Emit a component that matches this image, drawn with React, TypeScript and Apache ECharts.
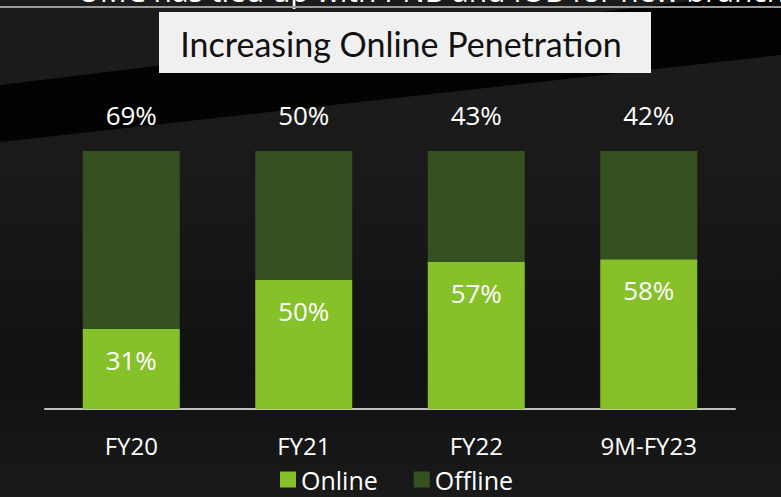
import React, { useEffect, useRef } from "react";
import * as echarts from "echarts";

const categories = ["FY20", "FY21", "FY22", "9M-FY23"];
const onlineValues = [31, 50, 57, 58];
const offlineValues = [69, 50, 43, 42];
const seriesNames = ["Online", "Offline"];
const titleText = "Increasing Online Penetration";
const topCutText = "UMC has tied up with PNB and IOB for new branches";

const LABEL_FONT = "'Open Sans', 'Noto Sans', sans-serif";

export default function App() {
  const ref = useRef<HTMLDivElement>(null);
  useEffect(() => {
    document.body.style.margin = "0";
    if (!ref.current) return;
    const chart = echarts.init(ref.current, null, { renderer: "svg" });
    chart.setOption({
      animation: false,
      backgroundColor: {
        type: "linear",
        x: 0,
        y: 0,
        x2: 0,
        y2: 1,
        colorStops: [
          { offset: 0, color: "#1c1c1c" },
          { offset: 0.35, color: "#1a1a1a" },
          { offset: 0.75, color: "#111111" },
          { offset: 1, color: "#1a1a1a" },
        ],
      },
      graphic: [
        {
          type: "polygon",
          z: -10,
          silent: true,
          shape: { points: [[0, 85], [781, -10], [781, 55], [0, 142]] },
          style: { fill: "#030303" },
        },
        {
          type: "text",
          z: -5,
          left: 78,
          top: -25,
          style: {
            text: topCutText,
            fill: "#ffffff",
            font: "30px " + LABEL_FONT,
          },
        },
        {
          type: "line",
          z: -4,
          shape: { x1: 0, y1: 7, x2: 781, y2: 7 },
          style: { stroke: "#9a9a9a", lineWidth: 2 },
        },
        {
          type: "rect",
          shape: { x: 159, y: 12, width: 492, height: 61 },
          style: { fill: "#f0f0f0" },
        },
        {
          type: "text",
          x: 401,
          y: 43,
          style: {
            text: titleText,
            fill: "#111111",
            font: "34px Lato, 'Open Sans', sans-serif",
            align: "center",
            verticalAlign: "middle",
          },
        },
      ],
      legend: {
        left: 280,
        top: 467,
        itemWidth: 16,
        itemHeight: 16,
        itemGap: 36,
        icon: "rect",
        data: seriesNames,
        padding: 0,
        textStyle: {
          color: "#ffffff",
          fontSize: 25,
          fontFamily: LABEL_FONT,
        },
      },
      grid: { left: 45, right: 46, top: 151, bottom: 88 },
      xAxis: {
        type: "category",
        data: categories,
        axisLine: { lineStyle: { color: "#c0c0c0", width: 2 } },
        axisTick: { show: false },
        axisLabel: {
          color: "#ffffff",
          fontSize: 24,
          fontFamily: LABEL_FONT,
          margin: 24,
        },
      },
      yAxis: {
        type: "value",
        min: 0,
        max: 100,
        show: false,
        splitLine: { show: false },
      },
      series: [
        {
          name: seriesNames[0],
          type: "bar",
          stack: "total",
          barWidth: 97,
          data: onlineValues,
          itemStyle: { color: "#86c129" },
          label: {
            show: true,
            position: "insideTop",
            distance: 18,
            formatter: "{c}%",
            color: "#ffffff",
            fontSize: 26,
            fontFamily: LABEL_FONT,
          },
        },
        {
          name: seriesNames[1],
          type: "bar",
          stack: "total",
          barWidth: 97,
          data: offlineValues,
          itemStyle: { color: "#34511f" },
          label: {
            show: true,
            position: "top",
            distance: 23,
            formatter: "{c}%",
            color: "#ffffff",
            fontSize: 26,
            fontFamily: LABEL_FONT,
          },
        },
      ],
    });
    return () => chart.dispose();
  }, []);
  return <div ref={ref} style={{ width: 781, height: 497 }} />;
}
